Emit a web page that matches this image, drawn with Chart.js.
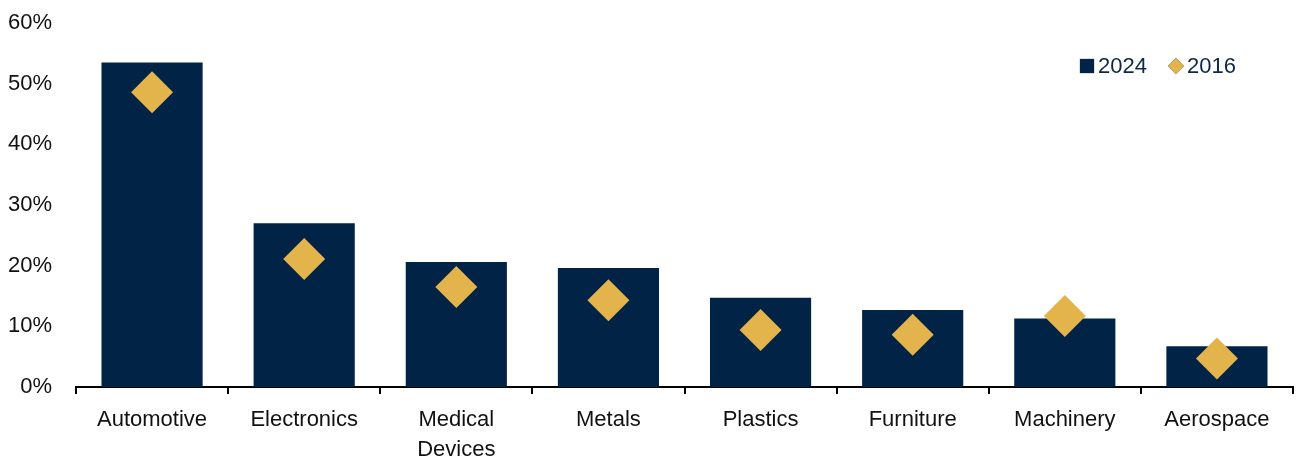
<!DOCTYPE html>
<html>
<head>
<meta charset="utf-8">
<script src="https://cdn.jsdelivr.net/npm/chart.js@4"></script>
<style>
  html, body { margin: 0; padding: 0; background: #ffffff; overflow: hidden; }
  canvas { display: block; }
</style>
</head>
<body>
<canvas id="sectorChart" width="1299" height="460"></canvas>
<script>
const sectors = ["Automotive", "Electronics", ["Medical", "Devices"], "Metals", "Plastics", "Furniture", "Machinery", "Aerospace"];
const share2024 = [53.5, 27.0, 20.6, 19.6, 14.7, 12.7, 11.3, 6.7];
const share2016 = [48.6, 21.1, 16.5, 14.3, 9.4, 8.6, 11.7, 4.7];
const yTicks = [0, 10, 20, 30, 40, 50, 60];

const navy = "#012346";
const gold = "#e3b34c";
const fontFamily = '"Liberation Sans", Arial, sans-serif';

// Legend drawn inside the plot, top right, with the dataset point styles.
const insideLegend = {
  id: "insideLegend",
  afterDraw(chart) {
    const c = chart.ctx;
    const area = chart.chartArea;
    let x = area.right - 213;
    const y = area.top + 43;
    c.save();
    c.font = "22px " + fontFamily;
    c.textBaseline = "middle";
    chart.data.datasets.forEach((ds) => {
      const radius = ds.pointStyle === "rect" ? 10 : 8;
      Chart.helpers.drawPoint(c, { pointStyle: ds.pointStyle, radius: radius, borderWidth: 0 }, x + 7, y);
      c.fillStyle = ds.backgroundColor;
      c.fill();
      c.fillStyle = "#0f2747";
      c.fillText(ds.label, x + 18, y + 1);
      x += 18 + c.measureText(ds.label).width + 22;
    });
    c.restore();
  }
};

const ctx = document.getElementById("sectorChart");
new Chart(ctx, {
  type: "bar",
  data: {
    labels: sectors,
    datasets: [
      {
        label: "2024",
        data: share2024,
        backgroundColor: navy,
        borderWidth: 0,
        categoryPercentage: 1,
        barPercentage: 0.665,
        pointStyle: "rect",
        order: 2
      },
      {
        type: "line",
        label: "2016",
        data: share2016,
        showLine: false,
        pointStyle: "rectRot",
        pointRadius: 21,
        pointHoverRadius: 21,
        pointBackgroundColor: gold,
        pointBorderWidth: 0,
        backgroundColor: gold,
        borderColor: gold,
        order: 1
      }
    ]
  },
  options: {
    responsive: false,
    animation: false,
    layout: { autoPadding: false, padding: { top: 23, right: 6, left: 0, bottom: 0 } },
    plugins: {
      tooltip: { enabled: false },
      legend: { display: false }
    },
    scales: {
      x: {
        border: { display: true, color: "#000000", width: 2 },
        grid: { display: true, drawOnChartArea: false, drawTicks: true, tickLength: 7, color: "#000000", lineWidth: 2, offset: true },
        ticks: { color: "#111111", padding: 11, font: { family: fontFamily, size: 22, lineHeight: 1.36 } },
        afterFit: (scale) => {
          scale.height = 73;
          scale.paddingLeft = 0;
          scale.paddingRight = 0;
        }
      },
      y: {
        min: 0,
        max: 60,
        border: { display: false },
        grid: { display: false },
        afterBuildTicks: (scale) => { scale.ticks = yTicks.map((v) => ({ value: v })); },
        ticks: {
          color: "#111111",
          padding: 16,
          font: { family: fontFamily, size: 22 },
          callback: (v) => v + "%"
        },
        afterFit: (scale) => {
          scale.width = 76;
          scale.paddingTop = 0;
          scale.paddingBottom = 0;
        }
      }
    }
  },
  plugins: [insideLegend]
});
</script>
</body>
</html>
